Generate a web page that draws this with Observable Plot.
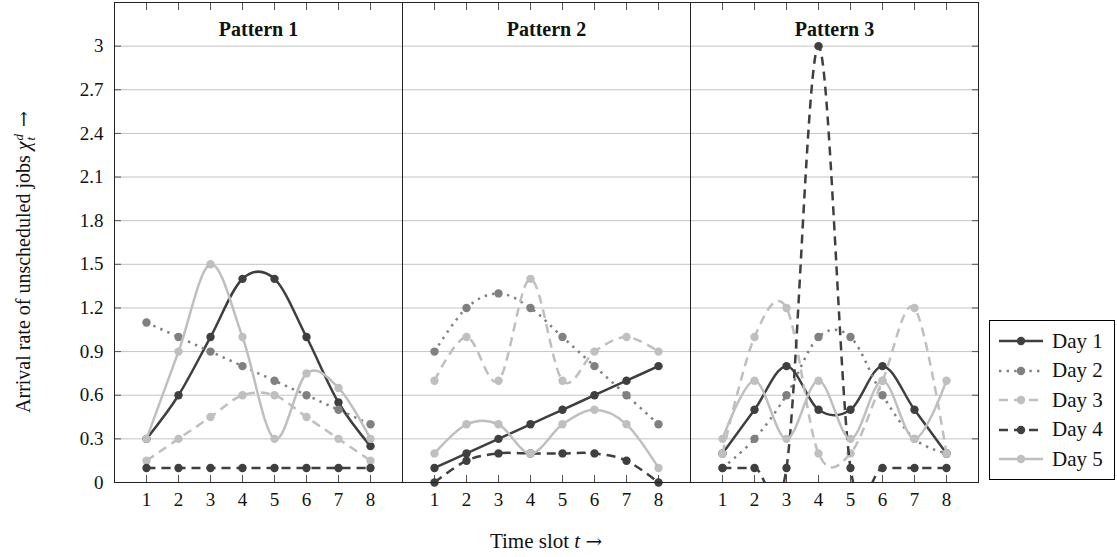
<!DOCTYPE html>
<html>
<head>
<meta charset="utf-8">
<script src="https://cdn.jsdelivr.net/npm/d3@7"></script>
<script src="https://cdn.jsdelivr.net/npm/@observablehq/plot@0.6"></script>
<style>
  body { margin: 0; background: #fff; }
  #wrap { position: relative; width: 1117px; height: 557px; font-family: "Liberation Serif", serif; color: #111; }
  #chart { position: absolute; left: 0; top: 0; }
  #xlabel { position: absolute; left: 396px; width: 300px; top: 529px; text-align: center; font-size: 21px; line-height: 24px; white-space: nowrap; }
  #ylabel { position: absolute; left: 24px; top: 262px; transform: translate(-50%, -50%) rotate(-90deg); font-size: 20px; line-height: 24px; white-space: nowrap; }
  .ss { display: inline-flex; flex-direction: column; font-size: 13px; line-height: 12px; vertical-align: 7px; margin-left: 1px; margin-right: 2px; }
  .arr { font-family: "DejaVu Serif", serif; font-size: 0.95em; }
  #legend { position: absolute; left: 989px; top: 320px; width: 126px; height: 160px; border: 1px solid #000; background: #fff; box-sizing: border-box; }
  .row { position: absolute; left: 8px; height: 24px; display: flex; align-items: center; font-size: 21px; }
  .row svg { margin-right: 8px; }
</style>
</head>
<body>
<div id="wrap">
  <div id="chart"></div>
  <div id="ylabel">Arrival rate of unscheduled jobs <i>χ</i><span class="ss"><i>d</i><i>t</i></span> <span class="arr">→</span></div>
  <div id="xlabel">Time slot <i>t</i> <span class="arr">→</span></div>
  <div id="legend"></div>
</div>
<script>
// ---- data ----
const patterns = ["Pattern 1", "Pattern 2", "Pattern 3"];
const days = ["Day 1", "Day 2", "Day 3", "Day 4", "Day 5"];
const slots = [1, 2, 3, 4, 5, 6, 7, 8];
const yTicks = [0, 0.3, 0.6, 0.9, 1.2, 1.5, 1.8, 2.1, 2.4, 2.7, 3];

// values per day (Day 1..Day 5) for each time slot 1..8
const pattern1 = [
  [0.3, 0.6, 1.0, 1.4, 1.4, 1.0, 0.55, 0.25],
  [1.1, 1.0, 0.9, 0.8, 0.7, 0.6, 0.5, 0.4],
  [0.15, 0.3, 0.45, 0.6, 0.6, 0.45, 0.3, 0.15],
  [0.1, 0.1, 0.1, 0.1, 0.1, 0.1, 0.1, 0.1],
  [0.3, 0.9, 1.5, 1.0, 0.3, 0.75, 0.65, 0.3]
];
const pattern2 = [
  [0.1, 0.2, 0.3, 0.4, 0.5, 0.6, 0.7, 0.8],
  [0.9, 1.2, 1.3, 1.2, 1.0, 0.8, 0.6, 0.4],
  [0.7, 1.0, 0.7, 1.4, 0.7, 0.9, 1.0, 0.9],
  [0.0, 0.15, 0.2, 0.2, 0.2, 0.2, 0.15, 0.0],
  [0.2, 0.4, 0.4, 0.2, 0.4, 0.5, 0.4, 0.1]
];
const pattern3 = [
  [0.2, 0.5, 0.8, 0.5, 0.5, 0.8, 0.5, 0.2],
  [0.1, 0.3, 0.6, 1.0, 1.0, 0.6, 0.3, 0.2],
  [0.2, 1.0, 1.2, 0.2, 0.2, 0.7, 1.2, 0.2],
  [0.1, 0.1, 0.1, 3.0, 0.1, 0.1, 0.1, 0.1],
  [0.3, 0.7, 0.3, 0.7, 0.3, 0.7, 0.3, 0.7]
];

// styles per day
const dayColors = ["#3f3f3f", "#808080", "#bfbfbf", "#3f3f3f", "#bfbfbf"];
const dayDash = [null, "2.4,5.2", "9,6", "9,6", null];

// ---- build table ----
const patternValues = [pattern1, pattern2, pattern3];
const rows = [];
patterns.forEach((p, pi) => {
  days.forEach((d, di) => {
    slots.forEach((t, ti) => {
      rows.push({pattern: p, day: d, t, v: patternValues[pi][di][ti]});
    });
  });
});

const font = "Liberation Serif, serif";
const seriesMarks = [];
days.forEach((d, di) => {
  const data = rows.filter(r => r.day === d);
  seriesMarks.push(Plot.line(data, {
    x: "t", y: "v", fx: "pattern",
    stroke: dayColors[di], strokeWidth: 2.5,
    strokeDasharray: dayDash[di], strokeLinecap: "butt",
    curve: "cardinal", clip: true
  }));
  seriesMarks.push(Plot.dot(data, {
    x: "t", y: "v", fx: "pattern", r: 4.2, fill: dayColors[di], stroke: "none"
  }));
});

const chart = Plot.plot({
  width: 1117,
  height: 557,
  marginLeft: 114,
  marginRight: 139,
  marginTop: 2,
  marginBottom: 75,
  style: {fontFamily: font, fontSize: "19px", color: "#111", background: "#fff"},
  fx: {domain: patterns, padding: 0, axis: null, label: null},
  x: {domain: [0, 9], label: null},
  y: {domain: [0, 3.3], label: null},
  marks: [
    Plot.gridY(yTicks, {stroke: "#c4c4c4", strokeOpacity: 1, strokeWidth: 1}),
    Plot.axisY(yTicks, {anchor: "left", tickSize: 0, tickPadding: 11, tickFormat: d => String(d), label: null, fontSize: 19}),
    Plot.axisY(yTicks, {anchor: "left", tickSize: -7, text: null, label: null, stroke: "#555"}),
    Plot.axisY(yTicks, {anchor: "right", tickSize: -7, text: null, label: null, stroke: "#555"}),
    Plot.axisX(slots, {anchor: "bottom", tickSize: -7, text: null, label: null, stroke: "#555"}),
    Plot.axisX(slots, {anchor: "bottom", tickSize: 0, tickPadding: 10, tickFormat: d => String(d), label: null, fontSize: 19}),
    Plot.axisX(slots, {anchor: "top", tickSize: -7, text: null, label: null, stroke: "#555"}),
    Plot.text(patterns, {fx: d => d, text: d => d, frameAnchor: "top", lineAnchor: "middle", dy: 27, fontWeight: "bold", fontSize: 20, fill: "#111"}),
    ...seriesMarks,
    Plot.frame({stroke: "#222", strokeWidth: 1})
  ]
});
document.getElementById("chart").appendChild(chart);

// ---- legend ----
const legend = document.getElementById("legend");
days.forEach((d, di) => {
  const row = document.createElement("div");
  row.className = "row";
  row.style.top = (8 + di * 29.5) + "px";
  const dash = dayDash[di] ? `stroke-dasharray="${dayDash[di]}"` : "";
  row.innerHTML = `<svg width="46" height="12"><line x1="1" y1="6" x2="45" y2="6" stroke="${dayColors[di]}" stroke-width="2.5" ${dash}/><circle cx="23" cy="6" r="4.2" fill="${dayColors[di]}"/></svg><span>${d}</span>`;
  legend.appendChild(row);
});
</script>
</body>
</html>
